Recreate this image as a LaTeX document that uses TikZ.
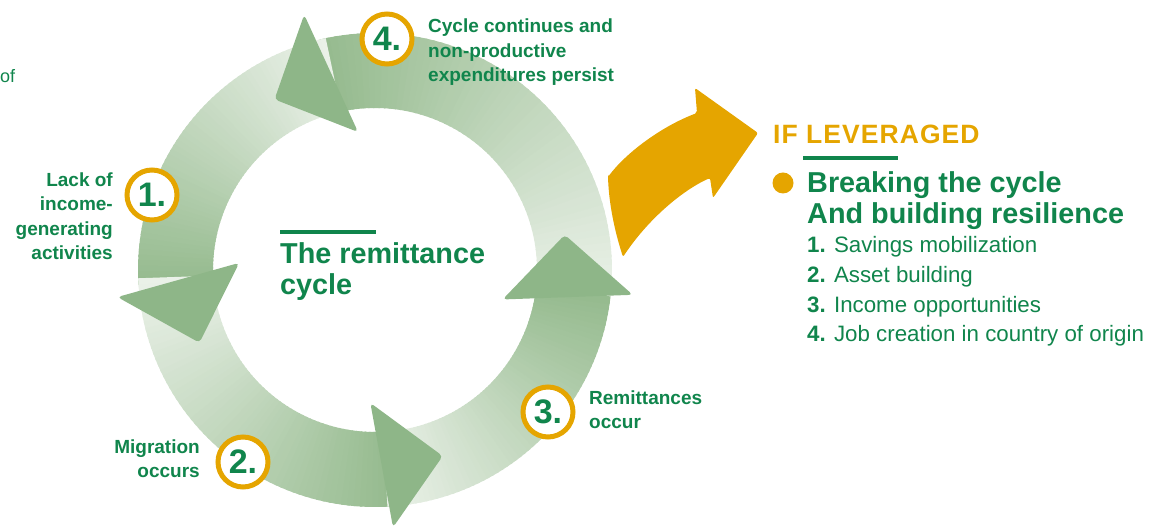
\documentclass[tikz,border=0pt]{standalone}
\usepackage{fontspec}
\setmainfont{Liberation Sans}
\definecolor{cgreen}{RGB}{16,133,76}
\definecolor{corange}{RGB}{229,165,0}
\definecolor{headgreen}{RGB}{142,182,136}
\definecolor{ringhead}{RGB}{150,187,143}
\definecolor{ringtail}{RGB}{234,241,232}
\tikzset{
  numc/.style={circle, draw=corange, line width=5pt, fill=white,
    minimum size=50pt, inner sep=0pt, text=cgreen,
    font=\fontsize{34}{34}\selectfont\bfseries},
  lab/.style={text=cgreen, inner sep=0pt,
    font=\fontsize{19}{24.5}\selectfont\bfseries},
  plainlab/.style={text=cgreen, inner sep=0pt,
    font=\fontsize{18}{22}\selectfont},
  titletext/.style={text=cgreen, inner sep=0pt,
    font=\fontsize{28.8}{31}\selectfont\bfseries},
  levtext/.style={text=corange, inner sep=0pt,
    font=\fontsize{26.5}{30}\selectfont\bfseries\addfontfeature{LetterSpace=4}},
  listtext/.style={text=cgreen, inner sep=0pt,
    font=\fontsize{22.3}{29.7}\selectfont},
  bar/.style={draw=cgreen, line width=4pt},
  headtri/.style={fill=headgreen, rounded corners=4pt},
}
% one shaded band of the ring, from #1 to #2 degrees
\newcommand{\bandseg}[2]{%
  \foreach \k in {0,...,59}{
    \pgfmathsetmacro{\aa}{#1+(#2-#1)*\k/60}
    \pgfmathsetmacro{\bb}{#1+(#2-#1)*(\k+1)/60+0.6}
    \pgfmathtruncatemacro{\pp}{100*\k/59}
    \fill[ringhead!\pp!ringtail] (\aa:237) arc[start angle=\aa, end angle=\bb, radius=237pt]
      -- (\bb:162) arc[start angle=\bb, end angle=\aa, radius=162pt] -- cycle;
  }}

\begin{document}
\begin{tikzpicture}[x=1pt, y=1pt]
\useasboundingbox (0,0) rectangle (1163,529);

% --- the ring: four bands, light tail to dark head ---
\begin{scope}[shift={(375,259)}]
  \bandseg{-8}{103}
  \bandseg{102}{183}
  \bandseg{182}{274}
  \bandseg{273}{353}

  % arrow heads
  \fill[headtri] (97:139) -- (105.5:265) -- (120.5:198) -- cycle;
  \fill[headtri] (177:136) -- (186:259) -- (202.5:190) -- cycle;
  \fill[headtri] (268:133) -- (274:258) -- (290:198) -- cycle;
  \fill[headtri] (347:131) -- (354.5:259) -- (370.5:193) -- cycle;
\end{scope}

% --- numbered steps ---
\node[numc] (n1) at (152,334) {1.};
\node[numc] (n2) at (243,67) {2.};
\node[numc] (n3) at (548,117) {3.};
\node[numc] (n4) at (387,490) {4.};

% labels (base = last line)
\node[plainlab, anchor=base west] (cut) at (0,446) {of};
\node[lab, anchor=base east, align=right] (lab1) at (113,269) {Lack of\\income-\\generating\\activities};
\node[lab, anchor=base east, align=right] (lab2) at (200,51) {Migration\\occurs};
\node[lab, anchor=base west, align=left] (lab3) at (589,100) {Remittances\\occur};
\node[lab, anchor=base west, align=left] (lab4) at (428,447) {Cycle continues and\\non-productive\\expenditures persist};

% --- centre title ---
\draw[bar] (280,297) -- (376,297);
\node[titletext, anchor=base west, align=left] (title) at (280,234) {The remittance\\cycle};

% --- orange arrow ---
\fill[corange, rounded corners=2pt] (608,352) .. controls (625,375) and (660,402) .. (697,416)
  -- (695,441) -- (758,396) -- (713,331) -- (710,351)
  .. controls (683,339) and (648,310) .. (623,272)
  .. controls (614,300) and (609,326) .. (608,352) -- cycle;

% --- if leveraged ---
\node[levtext, anchor=base west] (lev) at (773,385) {IF LEVERAGED};
\draw[bar] (803,371) -- (898,371);
\fill[corange] (783,346) circle (10.5);
\node[titletext, anchor=base west, align=left] (brk) at (807,305) {Breaking the cycle\\And building resilience};
\node[listtext, anchor=base west, align=left] (lst) at (807,187)
  {\textbf{1.} Savings mobilization\\\textbf{2.} Asset building\\\textbf{3.} Income opportunities\\\textbf{4.} Job creation in country of origin};
\end{tikzpicture}
\end{document}
